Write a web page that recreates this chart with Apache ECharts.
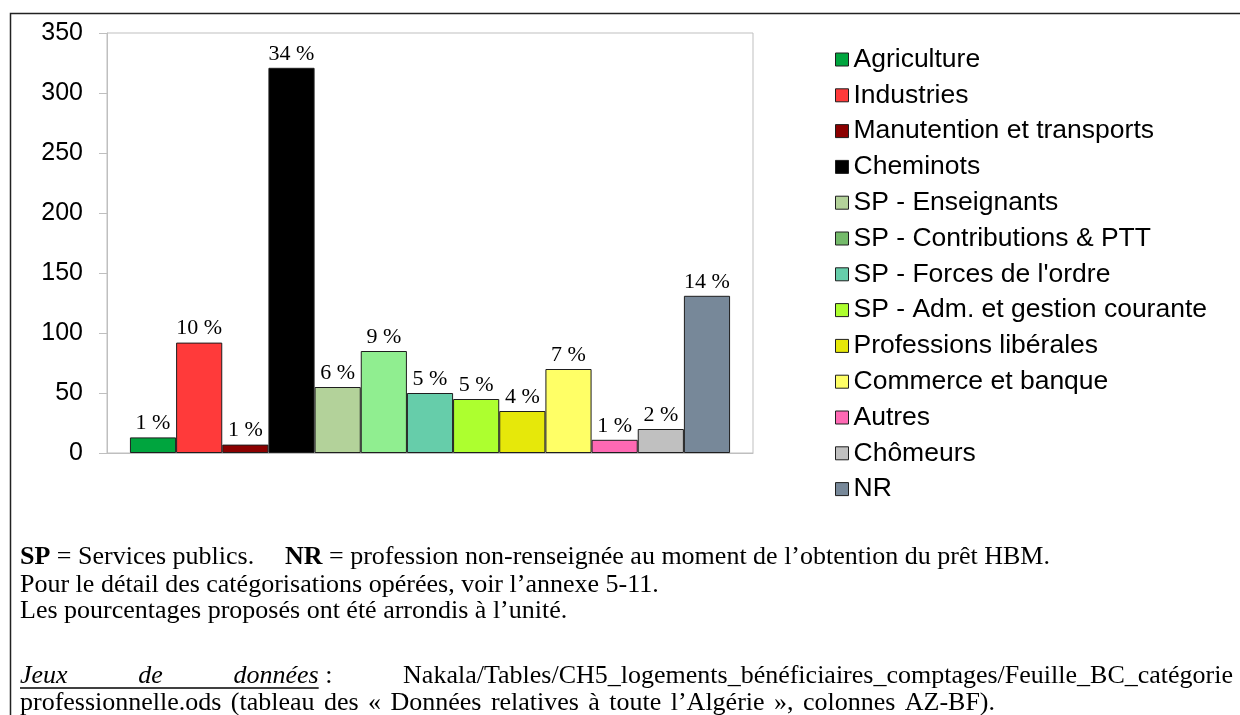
<!DOCTYPE html>
<html>
<head>
<meta charset="utf-8">
<title>Catégories professionnelles des bénéficiaires de prêts HBM</title>
<script src="https://cdn.jsdelivr.net/npm/echarts@6/dist/echarts.min.js"></script>
<style>
  html, body { margin: 0; padding: 0; background: #fff; }
  #chart { width: 1240px; height: 715px; }
</style>
</head>
<body>
<div id="chart"></div>
<script>
// Professional categories of HBM loan beneficiaries (whole of Algeria)
const categories = [
  'Agriculture',
  'Industries',
  'Manutention et transports',
  'Cheminots',
  'SP - Enseignants',
  'SP - Contributions & PTT',
  "SP - Forces de l'ordre",
  'SP - Adm. et gestion courante',
  'Professions libérales',
  'Commerce et banque',
  'Autres',
  'Chômeurs',
  'NR'
];

// Number of beneficiaries per category
const counts = [13, 92, 7, 321, 55, 85, 50, 45, 35, 70, 11, 20, 131];

// Y axis range and step
const yTicks = { min: 0, max: 350, step: 50 };

// Fill colour of each bar
const barColors = [
  '#00a53e', '#ff3a3a', '#8b0000', '#000000', '#b3d29a', '#90ee90', '#66cdaa',
  '#adff2f', '#e6e80a', '#ffff66', '#ff69b4', '#c0c0c0', '#778899'
];
// Swatch colours shown in the legend
const legendColors = [
  '#00a53e', '#ff3a3a', '#8b0000', '#000000', '#b3d29a', '#74ba6a', '#66cdaa',
  '#adff2f', '#e6e80a', '#ffff66', '#ff69b4', '#c0c0c0', '#778899'
];

const total = counts.reduce((a, b) => a + b, 0);
const pctLabel = v => Math.round(v / total * 100) + ' %';

const SANS = 'Liberation Sans';
const SERIF = 'Liberation Serif';

// ---- text measuring, used to justify the note lines ----
const measureCtx = document.createElement('canvas').getContext('2d');
function textWidth(str, size, style) {
  measureCtx.font = (style || 'normal') + ' ' + size + 'px "' + SERIF + '"';
  return measureCtx.measureText(str).width;
}
// Spread groups of words evenly between x0 and x1 on one line.
// Each group is a list of pieces {text, style} drawn side by side.
function justify(groups, x0, x1, size) {
  const gw = groups.map(g => g.map(p => textWidth(p.text, size, p.style)));
  const sums = gw.map(ws => ws.reduce((a, b) => a + b, 0));
  const used = sums.reduce((a, b) => a + b, 0);
  const gap = (x1 - x0 - used) / (groups.length - 1);
  const out = [];
  let x = x0;
  groups.forEach((g, i) => {
    let px = x;
    g.forEach((p, j) => {
      out.push({ text: p.text, x: px, w: gw[i][j], style: p.style || 'normal', group: i });
      px += gw[i][j];
    });
    x += sums[i] + gap;
  });
  return out;
}

const series = categories.map((name, i) => ({
  name: name,
  type: 'bar',
  data: [counts[i]],
  barGap: '0%',
  barCategoryGap: '7.1%',
  itemStyle: { color: barColors[i], borderColor: '#1e1e1e', borderWidth: 1 },
  label: {
    show: true,
    position: 'top',
    distance: 3,
    formatter: p => pctLabel(p.value),
    fontFamily: SERIF,
    fontSize: 22,
    color: '#000'
  },
  emphasis: { disabled: true },
  animation: false
}));

// ---- notes below the chart ----
const footSize = 26;
const footY = [557, 585, 611, 676, 703];

function textEl(str, x, y, size, extra) {
  return {
    type: 'text', x: x, y: y, silent: true,
    style: Object.assign({
      text: str, fontFamily: SERIF, fontSize: size, fill: '#000', verticalAlign: 'middle'
    }, extra || {})
  };
}

const notes = [];
const bold = { rich: { b: { fontFamily: SERIF, fontSize: footSize, fontWeight: 'bold' } } };
notes.push(textEl('{b|SP} = Services publics.', 20, footY[0], footSize, bold));
notes.push(textEl('{b|NR} = profession non-renseignée au moment de l\u2019obtention du prêt HBM.', 285, footY[0], footSize, bold));
notes.push(textEl('Pour le détail des catégorisations opérées, voir l\u2019annexe 5-11.', 20, footY[1], footSize));
notes.push(textEl('Les pourcentages proposés ont été arrondis à l\u2019unité.', 20, footY[2], footSize));

// source line, justified across the full width
const srcLine = justify([
  [{ text: 'Jeux', style: 'italic' }],
  [{ text: 'de', style: 'italic' }],
  [{ text: 'données', style: 'italic' }, { text: '\u00a0:' }],
  [{ text: 'Nakala/Tables/CH5_logements_bénéficiaires_comptages/Feuille_BC_catégorie' }]
], 20, 1233, footSize);
srcLine.forEach(w => {
  notes.push(textEl(w.text, w.x, footY[3], footSize, { fontStyle: w.style }));
});
const donnees = srcLine.find(w => w.text === 'données');
notes.push({
  type: 'line', silent: true,
  shape: { x1: 20, y1: footY[3] + 12, x2: donnees.x + donnees.w, y2: footY[3] + 12 },
  style: { stroke: '#000', lineWidth: 1.5 }
});

// last line of the source reference
const lastGroups = 'professionnelle.ods (tableau des « Données relatives à toute l\u2019Algérie », colonnes AZ-BF).'
  .split(' ').map(t => [{ text: t }]);
justify(lastGroups, 20, 995, footSize).forEach(w => {
  notes.push(textEl(w.text, w.x, footY[4], footSize));
});

const option = {
  backgroundColor: '#fff',
  animation: false,
  grid: {
    left: 107, top: 33, width: 646, height: 420,
    show: true, borderColor: '#bfbfbf', borderWidth: 1, backgroundColor: 'transparent'
  },
  legend: {
    orient: 'vertical',
    left: 835,
    top: 46,
    padding: 0,
    itemWidth: 13,
    itemHeight: 13,
    itemGap: 8.8,
    icon: 'rect',
    selectedMode: false,
    textStyle: { fontFamily: SANS, fontSize: 26.5, color: '#000', lineHeight: 26 },
    data: categories.map((name, i) => ({
      name: name,
      itemStyle: { color: legendColors[i], borderColor: '#1e1e1e', borderWidth: 1 }
    }))
  },
  xAxis: {
    type: 'category',
    data: [''],
    axisLine: { lineStyle: { color: '#bfbfbf', width: 1 } },
    axisTick: { show: false },
    axisLabel: { show: false }
  },
  yAxis: {
    type: 'value',
    min: yTicks.min,
    max: yTicks.max,
    interval: yTicks.step,
    axisLine: { show: true, lineStyle: { color: '#bfbfbf', width: 1 } },
    axisTick: { show: true, length: 8, inside: false, lineStyle: { color: '#bfbfbf' } },
    splitLine: { show: false },
    axisLabel: { fontFamily: SANS, fontSize: 25, color: '#000', margin: 24 }
  },
  series: series,
  graphic: [
    // frame around the figure
    {
      type: 'polyline',
      shape: { points: [[10.5, 715], [10.5, 13.5], [1240, 13.5]] },
      style: { stroke: '#222', lineWidth: 1.5, fill: null },
      silent: true
    }
  ].concat(notes)
};

const chart = echarts.init(document.getElementById('chart'), null, { renderer: 'canvas' });
chart.setOption(option);
</script>
</body>
</html>
